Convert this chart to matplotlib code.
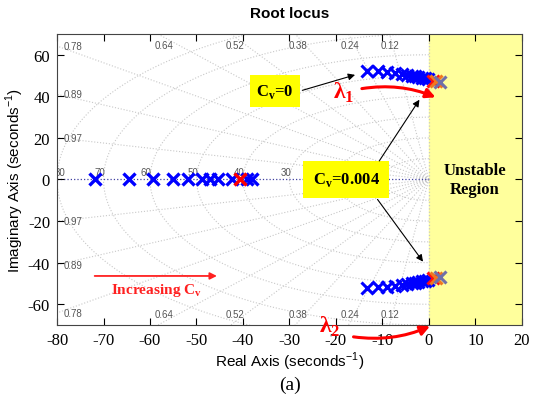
import numpy as np
import matplotlib.pyplot as plt

plt.rcParams['axes.unicode_minus'] = False
plt.rcParams['mathtext.fontset'] = 'custom'
plt.rcParams['mathtext.rm'] = 'Liberation Serif'
plt.rcParams['mathtext.bf'] = 'Liberation Serif:bold'
plt.rcParams['mathtext.sf'] = 'Liberation Sans'

# poles on the real axis (blue), the red one is the Cv=0 pole
real_poles = [-71.8, -64.5, -59.4, -55.1, -51.8, -48.8, -47.1, -45.4, -42.4, -39.1, -38.1]
real_red = [-40.6]

# complex pair, upper branch
upper_re = [-13.3, -11.0, -9.0, -7.3, -5.8, -4.7, -3.7, -3.0, -2.4, -1.5, -0.9, -0.2]
upper_im = [52.3, 52.0, 51.6, 51.2, 50.8, 50.4, 50.0, 49.6, 49.3, 49.0, 48.6, 48.2]
# lower branch
lower_re = [-13.3, -11.0, -9.0, -7.3, -5.8, -4.7, -3.7, -3.0, -2.4, -1.5, -0.9, -0.2]
lower_im = [-52.2, -51.9, -51.5, -51.1, -50.7, -50.3, -49.9, -49.6, -49.3, -49.0, -48.6, -48.2]

# last three poles (red, orange, grey) near the imaginary axis
end_re = [0.9, 1.5, 2.4]
end_im = [47.6, 47.3, 47.0]
end_colors = ['#ff1010', '#f07820', '#7070a8']

zetas = [0.12, 0.24, 0.38, 0.52, 0.64, 0.78, 0.89, 0.97]
wns = [10, 20, 30, 40, 50, 60, 70, 80]
wn_labels = ['10', '20', '30', '40', '50', '60', '70', '80']

xmin, xmax, ymin, ymax = -80, 20, -70, 70

fig = plt.figure(figsize=(5.33, 4.02), dpi=100)
ax = fig.add_axes([0.107, 0.189, 0.872, 0.724])

serif = 'Liberation Serif'
sans = 'Liberation Sans'
gcol = '#c8c8c8'
lcol = '#555555'

# unstable region
ax.axvspan(0, xmax, color='#ffff9c', zorder=0)

# sgrid: natural frequency circles
th = np.linspace(np.pi / 2, 3 * np.pi / 2, 200)
for wn, lab in zip(wns, wn_labels):
    ax.plot(wn * np.cos(th), wn * np.sin(th), ls=':', color=gcol, lw=0.8, zorder=1)
    if wn >= 30:
        ax.text(-wn - 0.8 + (1.5 if wn == 80 else 0), 1.2, lab, fontsize=7, color=lcol,
                family=sans, ha='center', va='bottom', zorder=2, clip_on=True)

# sgrid: damping ratio rays
for z in zetas:
    s = np.sqrt(1 - z ** 2)
    r = 200
    ax.plot([0, -r * z], [0, r * s], ls=':', color=gcol, lw=0.8, zorder=1)
    ax.plot([0, -r * z], [0, -r * s], ls=':', color=gcol, lw=0.8, zorder=1)
    xt = -68.5 * z / s
    if xt > -76:
        ax.text(xt, 64.7, f'{z:.2f}', fontsize=7, color=lcol, family=sans,
                ha='center', va='center')
        ax.text(xt, -64.7, f'{z:.2f}', fontsize=7, color=lcol, family=sans,
                ha='center', va='center')
    else:
        yt = 80 * s / z
        ax.text(-78.5, yt, f'{z:.2f}', fontsize=7, color=lcol, family=sans,
                ha='left', va='center')
        ax.text(-78.5, -yt, f'{z:.2f}', fontsize=7, color=lcol, family=sans,
                ha='left', va='center')

# axes lines
ax.plot([xmin, 0], [0, 0], ls=':', color='#4040a0', lw=0.9, zorder=1)
ax.plot([0, 0], [ymin, ymax], ls=':', color=gcol, lw=0.9, zorder=1)

# poles
mk = dict(marker='x', ls='none', zorder=4)
ax.plot(real_poles, np.zeros(len(real_poles)), color='#0000ff', ms=9, mew=2.4, **mk)
ax.plot(real_red, [0], color='#ff0000', ms=9, mew=2.4, **mk)
ax.plot(upper_re, upper_im, color='#0000ff', ms=8, mew=2.2, **mk)
ax.plot(lower_re, lower_im, color='#0000ff', ms=8, mew=2.2, **mk)
for xr, yi, c in zip(end_re, end_im, end_colors):
    ax.plot([xr], [yi], color=c, ms=8, mew=2.2, **mk)
    ax.plot([xr], [-yi], color=c, ms=8, mew=2.2, **mk)

# annotations
ax.text(-33.1, 42.5, r'C$_\mathbf{v}$=0', fontsize=12, fontweight='bold', family=serif,
        ha='center', va='center', zorder=5,
        bbox=dict(boxstyle='square,pad=0.4', fc='#ffff00', ec='none'))
ax.annotate('', xy=(-15.3, 50.7), xytext=(-27.8, 42.5),
            arrowprops=dict(arrowstyle='-|>', color='black', lw=0.8, mutation_scale=10), zorder=5)
ax.text(-17.8, 0, r'C$_\mathbf{v}$=0.004', fontsize=12, fontweight='bold', family=serif,
        ha='center', va='center', zorder=5,
        bbox=dict(boxstyle='square,pad=0.55', fc='#ffff00', ec='none'))
ax.annotate('', xy=(-1.7, 39.5), xytext=(-11.0, 7.8),
            arrowprops=dict(arrowstyle='-|>', color='black', lw=0.8, mutation_scale=10), zorder=5)
ax.annotate('', xy=(-0.9, -40.6), xytext=(-11.4, -8.5),
            arrowprops=dict(arrowstyle='-|>', color='black', lw=0.8, mutation_scale=10), zorder=5)

ax.text(-18.3, 42.0, r'λ$_\mathbf{1}$', fontsize=17, fontweight='bold', family=serif,
        color='#ff0000', ha='center', va='center', zorder=5)
ax.annotate('', xy=(2.0, 39.0), xytext=(-15.0, 43.5),
            arrowprops=dict(arrowstyle='-|>', color='#ff0000', lw=2.2, mutation_scale=14,
                            connectionstyle='arc3,rad=-0.15'), zorder=5)

ax.text(-21.3, -70.5, r'λ$_\mathbf{2}$', fontsize=17, fontweight='bold', family=serif,
        color='#ff0000', ha='center', va='center', zorder=5, clip_on=False)
ax.annotate('', xy=(0.8, -70.0), xytext=(-16.8, -75.5),
            arrowprops=dict(arrowstyle='-|>', color='#ff0000', lw=2.2, mutation_scale=14,
                            connectionstyle='arc3,rad=0.15'), zorder=5,
            annotation_clip=False)

ax.text(9.9, 0, 'Unstable\nRegion', fontsize=12, fontweight='bold', family=serif,
        ha='center', va='center', linespacing=1.25, zorder=5)

ax.annotate('', xy=(-45.0, -46.4), xytext=(-72.5, -46.4),
            arrowprops=dict(arrowstyle='-|>', color='#ff2020', lw=1.3, mutation_scale=10), zorder=5)
ax.text(-58.5, -53.0, r'Increasing C$_\mathbf{v}$', fontsize=11, fontweight='bold',
        family=serif, color='#ff2020', ha='center', va='center', zorder=5)

ax.set_xlim(xmin, xmax)
ax.set_ylim(ymin, ymax)
ax.set_xticks(np.arange(-80, 21, 10))
ax.set_yticks(np.arange(-60, 61, 20))
ax.tick_params(direction='in', top=True, right=True, length=5, width=0.8, labelsize=12,
               pad=5)
for lab in ax.get_xticklabels() + ax.get_yticklabels():
    lab.set_family(serif)
for sp in ax.spines.values():
    sp.set_color('#444444')
    sp.set_linewidth(0.8)

ax.set_xlabel(r'Real Axis (seconds$^{\mathsf{-1}}$)', fontsize=11, family=sans, labelpad=1)
ax.set_ylabel(r'Imaginary Axis (seconds$^{\mathsf{-1}}$)', fontsize=11, family=sans, labelpad=1)
ax.set_title('Root locus', fontsize=11, fontweight='bold', family=sans, pad=12)
fig.text(0.544, 0.042, '(a)', fontsize=14, family=serif, ha='center', va='center')

fig.savefig('out.png', dpi=100)
